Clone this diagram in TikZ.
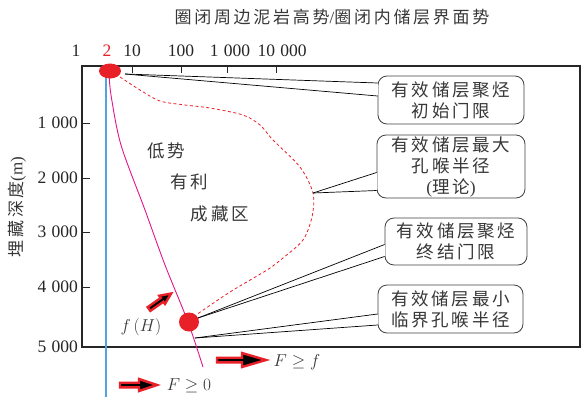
\documentclass[tikz,border=0pt]{standalone}
\usepackage{fontspec}
\setmainfont{Liberation Serif}
\newfontfamily\cjk[LetterSpace=16]{Noto Sans CJK SC}
\usetikzlibrary{calc,shapes.geometric}
\definecolor{dotred}{RGB}{232,32,40}
\definecolor{mag}{RGB}{228,20,140}
\definecolor{lblue}{RGB}{80,165,220}
\definecolor{txt}{RGB}{55,55,55}
\newcommand\myfatarrow[6]{%
  \begin{scope}[shift={(#1,#2)},rotate=#3]
    \filldraw[fill=black,draw=dotred,line width=2.4pt,line join=miter]
      (0,-2.3) -- (#4-#5,-2.3) -- (#4-#5,-#6) -- (#4,0) -- (#4-#5,#6) -- (#4-#5,2.3) -- (0,2.3) -- cycle;
  \end{scope}}
\begin{document}
\begin{tikzpicture}[x=1pt,y=-1pt,
  frame/.style={draw=black!85,line width=1.1pt},
  tick/.style={draw=black!85,line width=0.9pt},
  num/.style={font=\fontsize{17.5}{17.5}\selectfont,text=black!85,inner sep=0},
  bubble/.style={draw=black!75,line width=0.8pt,rounded corners=9pt,fill=white,
     align=center,inner sep=0,font=\cjk\fontsize{17.5}{21}\selectfont,text=txt},
  lead/.style={draw=black,line width=0.7pt},
  region/.style={font=\cjk\fontsize{17.5}{17.5}\selectfont,text=txt,inner sep=0},
  dot/.style={ellipse,fill=dotred,inner sep=0},
  formula/.style={font=\fontsize{19}{19}\selectfont,text=txt,inner sep=0}]
\useasboundingbox (0,0) rectangle (582,397);

% frame and ticks
\draw[frame] (82,66) rectangle (580,347);
\foreach \x in {132,181,227,276} \draw[tick] (\x,66) -- (\x,73);
\foreach \y in {123,178,232,287} \draw[tick] (82,\y) -- (90,\y);

% title and axis labels
\node[font=\cjk\fontsize{17}{17}\selectfont,text=txt,inner sep=0] (title) at (332,17) {圈闭周边泥岩高势{\rmfamily/}圈闭内储层界面势};
\node[font=\cjk\fontsize{17}{17}\selectfont,text=txt,inner sep=0,rotate=90] (ylab) at (17,207) {埋藏深度{\rmfamily\fontsize{17}{17}\selectfont(m)}};

\node[num] (t1) at (76,51) {1};
\node[num,text=dotred] (t2) at (107,51) {2};
\node[num] (t10) at (132,51) {10};
\node[num] (t100) at (181,51) {100};
\node[num] (t1000) at (230,51) {1\hspace{0.3em}000};
\node[num] (t10000) at (282,51) {10\hspace{0.3em}000};

\node[num,anchor=east] (d1) at (78,123) {1\hspace{0.3em}000};
\node[num,anchor=east] (d2) at (78,178) {2\hspace{0.3em}000};
\node[num,anchor=east] (d3) at (78,232) {3\hspace{0.3em}000};
\node[num,anchor=east] (d4) at (78,287) {4\hspace{0.3em}000};
\node[num,anchor=east] (d5) at (78,347) {5\hspace{0.3em}000};

% curves
\draw[lblue,line width=1.1pt] (106,72) -- (106,397);
\draw[mag,line width=0.9pt] plot[smooth] coordinates {(109,72) (111,95) (121,145) (145,210) (165,265) (188,322) (203,367)};
\draw[dotred,dash pattern=on 3pt off 2.5pt,line width=0.8pt] plot[smooth] coordinates
  {(120,77) (140,90) (160,101) (185,105) (210,108) (243,115) (260,125) (273,140) (300,167) (313,193) (312,217) (303,240) (283,258) (267,270) (230,292) (196,315)};

% region labels
\node[region] (low) at (166,151) {低势};
\node[region] (fav) at (189,182) {有利};
\node[region] (acc) at (220,214) {成藏区};

% dots
\node[dot,minimum width=22pt,minimum height=15pt] (td) at (110,71) {};
\node[dot,minimum width=20pt,minimum height=19pt] (bd) at (189,322) {};

% tips
\coordinate (tip1) at (125,74);
\coordinate (tip2) at (313,193);
\coordinate (tip3) at (198,318);
\coordinate (tip4) at (195,338);

% bubbles
\node[bubble,minimum width=146pt,minimum height=48pt] (b1) at (451,100) {有效储层聚烃\\初始门限};
\node[bubble,minimum width=148pt,minimum height=63pt] (b2) at (451,166.5) {有效储层最大\\孔喉半径\\{\rmfamily(}理论{\rmfamily)}};
\node[bubble,minimum width=142pt,minimum height=47pt] (b3) at (456,241.5) {有效储层聚烃\\终结门限};
\node[bubble,minimum width=145pt,minimum height=48pt] (b4) at (450.5,309) {有效储层最小\\临界孔喉半径};

% callout wedges
\foreach \b/\t/\ya/\yb in {b1/tip1/-17/-4, b2/tip2/6/24, b3/tip3/3/15, b4/tip4/5/16} {
  \fill[white] ($(\b.west)+(-0.7,\ya+0.6)$) rectangle ($(\b.west)+(0.7,\yb-0.6)$);
  \draw[lead] (\t) -- ($(\b.west)+(0,\ya)$);
  \draw[lead] (\t) -- ($(\b.west)+(0,\yb)$);
}

% formulas
\node[formula] (fh) at (141,327) {$f\,(H)$};
\node[formula] (ff) at (297,362) {$F\geq f$};
\node[formula] (f0) at (189,386) {$F\geq 0$};

% fat arrows
\myfatarrow{217}{360}{0}{49}{24}{7}
\myfatarrow{120}{385}{0}{37}{18}{6}
\myfatarrow{149}{309}{35}{27}{11}{5}
\end{tikzpicture}
\end{document}
